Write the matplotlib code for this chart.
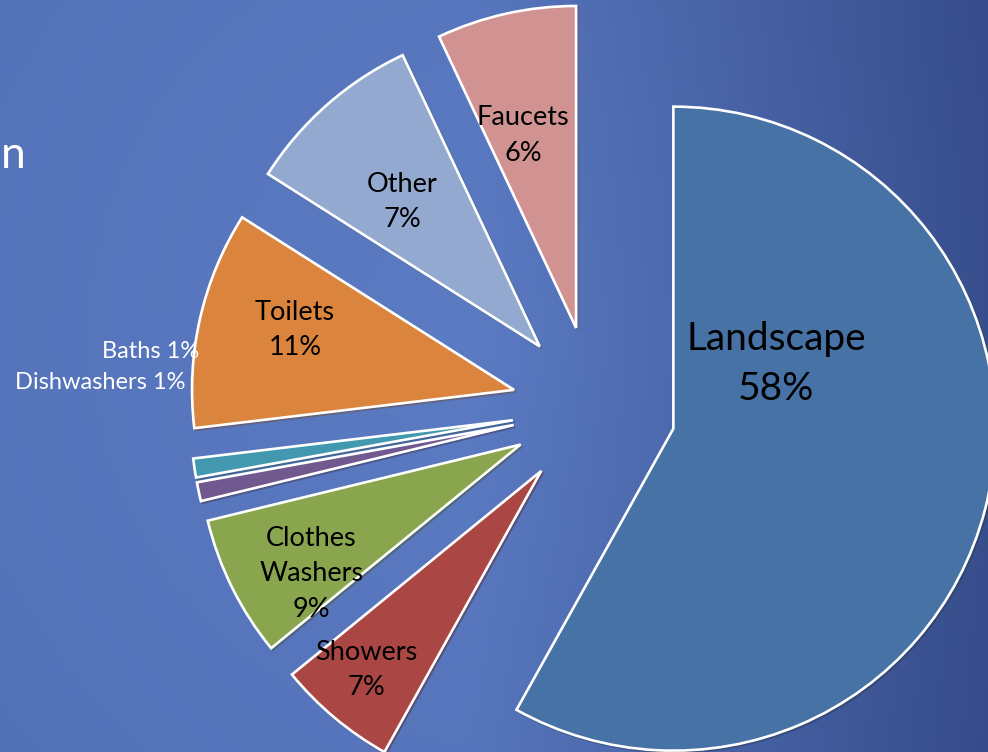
import numpy as np
import matplotlib.pyplot as plt

# slice shares as drawn (clockwise from 12 o'clock)
categories = ["Landscape", "Showers", "Clothes\nWashers", "Dishwashers", "Baths",
              "Toilets", "Other", "Faucets"]
shares = [58.1, 6.0, 7.1, 0.95, 0.95, 10.9, 9.0, 7.0]
label_pcts = [58, 7, 9, 1, 1, 11, 7, 6]
colors = ["#4672A6", "#AA4643", "#89A54E", "#71588F", "#4198AF",
          "#DB843D", "#93A9CF", "#D19392"]

W, H = 988, 752
fig = plt.figure(figsize=(W / 100, H / 100), dpi=100)
ax = fig.add_axes([0, 0, 1, 1])

# blue gradient background
xx, yy = np.meshgrid(np.linspace(0, W, 200), np.linspace(0, H, 160))
t = 0.8 * np.clip((xx - 470) / 520, 0, 1) + 0.2 * np.clip(np.hypot(xx - 500, yy - 420) / 650, 0, 1)
light = np.array([91, 123, 195]) / 255
dark = np.array([54, 76, 138]) / 255
bg = light[None, None, :] * (1 - t[..., None]) + dark[None, None, :] * t[..., None]
ax.imshow(bg, extent=(0, W, 0, H), origin="lower", zorder=0, aspect="auto")

# pie geometry (pixels)
cx, cy, radius, gap = 594, H - 408, 322, 82
wedges, _ = ax.pie(shares, colors=colors, startangle=90, counterclock=False,
                   center=(cx, cy), radius=radius, explode=[gap] * len(shares),
                   wedgeprops=dict(edgecolor="white", linewidth=1.9, joinstyle="miter"),
                   shadow=dict(ox=1.2, oy=-1.2, shade=0.5, alpha=0.35))
for w in wedges:
    w.set_zorder(3)

# label anchors relative to each wedge apex: (clock angle deg, fraction of radius)
label_anchor = [(57.7, 0.378), (221.3, 0.823), (238.3, 0.763), (277.4, 1.027),
                (282.3, 0.998), (285.3, 0.705), (316.4, 0.62), (344.6, 0.62)]
font = ["Lato", "DejaVu Sans"]
for i, w in enumerate(wedges):
    ang, frac = label_anchor[i]
    phi = np.deg2rad(90 - ang)
    x = w.center[0] + frac * w.r * np.cos(phi)
    y = w.center[1] + frac * w.r * np.sin(phi)
    if shares[i] < 2:
        ax.text(x, y, f"{categories[i]} {label_pcts[i]}%", ha="right", va="center",
                color="white", fontsize=17, family=font, zorder=5)
    else:
        size = 28 if i == 0 else 19.5
        ax.text(x, y, f"{categories[i]}\n{label_pcts[i]}%", ha="center", va="center",
                color="black", fontsize=size, family=font,
                linespacing=1.48 if i == 0 else 1.52, zorder=5)

# tail of the cut-off title
ax.text(1, H - 155, "n", ha="left", va="center", color="white", fontsize=32, family=font)

ax.set_xlim(0, W)
ax.set_ylim(0, H)
ax.set_aspect("equal")
ax.axis("off")
fig.savefig("out.png", dpi=100)
